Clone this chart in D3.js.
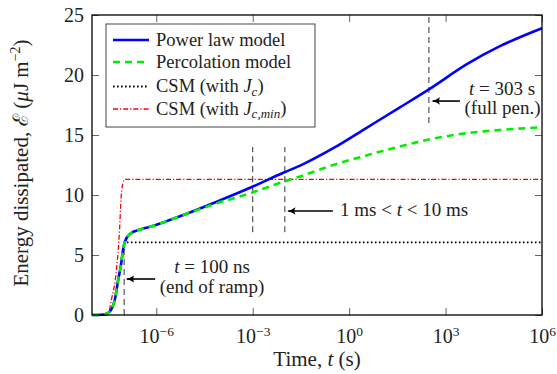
<!DOCTYPE html>
<html><head><meta charset="utf-8">
<script src="https://cdn.jsdelivr.net/npm/d3@7"></script>
<style>
body{margin:0;background:#fff;}
svg text{fill:#222;}
</style></head>
<body>
<svg id="c" width="557" height="374"></svg>
<script>
// ---- data ----
const powerLawT = [1e-8, 2e-8, 3.2e-8, 5.1e-8, 6.5e-8, 8.1e-8, 9.2e-8, 1.05e-7, 1.5e-7, 3.4e-7, 6.4e-7, 1.8e-6, 6.9e-6, 7.6e-5, 8.3e-4, 8.9e-3, 0.03, 0.32, 3.5, 38, 303, 4.6e3, 4.9e4, 1e6];
const powerLawE = [0, 0.02, 0.17, 1.25, 2.9, 4.3, 5.4, 6.1, 6.75, 7.15, 7.35, 7.75, 8.33, 9.44, 10.6, 11.85, 12.45, 13.9, 15.6, 17.3, 18.8, 20.9, 22.4, 23.9];
const percolationT = [1e-8, 2e-8, 3.2e-8, 5.1e-8, 6.5e-8, 8.1e-8, 9.2e-8, 1.05e-7, 1.5e-7, 3.4e-7, 6.4e-7, 1.8e-6, 6.9e-6, 7.6e-5, 8.3e-4, 8.9e-3, 0.03, 0.32, 3.5, 38, 420, 4.6e3, 4.9e4, 1e6];
const percolationE = [0, 0.02, 0.17, 1.25, 2.9, 4.3, 5.4, 6.1, 6.75, 7.15, 7.35, 7.75, 8.33, 9.3, 10.15, 11.1, 11.55, 12.5, 13.3, 14.05, 14.7, 15.15, 15.42, 15.64];
const csmJcT = [1e-8, 2e-8, 3.2e-8, 5.1e-8, 6.5e-8, 8.1e-8, 9.2e-8, 1.05e-7, 1e6];
const csmJcE = [0, 0.02, 0.17, 1.25, 2.9, 4.3, 5.4, 6.05, 6.05];
const csmJcminT = [1e-8, 2.75e-8, 3.2e-8, 4e-8, 5.75e-8, 7.2e-8, 8.1e-8, 9.2e-8, 1.05e-7, 1e6];
const csmJcminE = [0, 0, 0.1, 1.25, 3.75, 7.1, 9.9, 11.0, 11.3, 11.3];

const xTickValues = [1e-6, 1e-3, 1, 1e3, 1e6];
const xTickExponents = ["−6", "−3", "0", "3", "6"];
const yTickValues = [0, 5, 10, 15, 20, 25];

const seriesNames = ["Power law model", "Percolation model", "CSM (with J_c)", "CSM (with J_c,min)"];
const seriesColors = ["#0000ff", "#00ee00", "#000000", "#ff0000"];
const seriesDash = [null, "7,5", "1.6,2.4", "5,2,1.2,2"];
const seriesWidth = [2.6, 2.6, 1.8, 1.3];

// event markers: time, dashed extent (E from, to)
const eventTimes = [1e-7, 1e-3, 1e-2, 303];
const eventFrom = [0, 6.9, 6.9, 16];
const eventTo = [6.1, 14, 14, 25];

// ---- layout ----
const FONT = "'Liberation Serif', 'DejaVu Serif', 'Noto Serif', Tinos, 'Times New Roman', serif";
const svg = d3.select("#c").attr("font-family", FONT);
const L = 92, R = 542, T = 15, B = 315;
const x = d3.scaleLog().domain([1e-8, 1e6]).range([L, R]);
const y = d3.scaleLinear().domain([0, 25]).range([B, T]);

svg.append("defs").append("marker")
  .attr("id", "arr").attr("viewBox", "0 0 10 10").attr("refX", 8).attr("refY", 5)
  .attr("markerWidth", 9).attr("markerHeight", 9).attr("markerUnits", "userSpaceOnUse")
  .attr("orient", "auto")
  .append("path").attr("d", "M0,0.8 Q4,4 10,5 Q4,6 0,9.2 Q2.5,5 0,0.8Z").attr("fill", "#000");

// axes ticks
const tickCol = "#666";
const gx = svg.append("g").attr("transform", `translate(0,${B})`)
  .call(d3.axisBottom(x).tickValues(xTickValues).tickSize(-7).tickPadding(13.5).tickFormat(() => ""));
gx.selectAll(".tick text").each(function(d, i) {
  const t = d3.select(this).attr("font-size", 20);
  t.append("tspan").text("10");
  t.append("tspan").attr("dy", "-0.5em").attr("font-size", 13.5).text(xTickExponents[i]);
});
const gxt = svg.append("g").attr("transform", `translate(0,${T})`)
  .call(d3.axisTop(x).tickValues(xTickValues).tickSize(-7).tickFormat(() => ""));
const gy = svg.append("g").attr("transform", `translate(${L},0)`)
  .call(d3.axisLeft(y).tickValues(yTickValues).tickSize(-7).tickPadding(8));
gy.selectAll(".tick text").attr("font-size", 20).attr("dy", "0.33em");
const gyr = svg.append("g").attr("transform", `translate(${R},0)`)
  .call(d3.axisRight(y).tickValues(yTickValues).tickSize(-7).tickFormat(() => ""));
[gx, gxt, gy, gyr].forEach(g => {
  g.attr("font-family", FONT);
  g.select(".domain").remove();
  g.selectAll(".tick line").attr("stroke", tickCol).attr("stroke-width", 1);
  g.selectAll(".tick text").attr("fill", "#222");
});

// event dashed lines
eventTimes.forEach((t, i) => {
  svg.append("line").attr("x1", x(t)).attr("x2", x(t))
    .attr("y1", y(eventFrom[i])).attr("y2", y(eventTo[i]))
    .attr("stroke", "#333").attr("stroke-width", 1).attr("stroke-dasharray", "6,4");
});

// series
const seriesT = [powerLawT, percolationT, csmJcT, csmJcminT];
const seriesE = [powerLawE, percolationE, csmJcE, csmJcminE];
const line = d3.line().x(d => x(d[0])).y(d => y(d[1])).curve(d3.curveMonotoneX);
const drawOrder = [3, 2, 0, 1];
drawOrder.forEach(k => {
  const data = seriesT[k].map((t, i) => [t, seriesE[k][i]]);
  const p = svg.append("path").datum(data).attr("d", line).attr("fill", "none")
    .attr("stroke", seriesColors[k]).attr("stroke-width", seriesWidth[k]);
  if (seriesDash[k]) p.attr("stroke-dasharray", seriesDash[k]);
});

// frame
svg.append("rect").attr("x", L).attr("y", T).attr("width", R - L).attr("height", B - T)
  .attr("fill", "none").attr("stroke", "#000").attr("stroke-width", 1.3);

// legend
const lg = svg.append("g");
lg.append("rect").attr("x", 106).attr("y", 24).attr("width", 209).attr("height", 103)
  .attr("fill", "#fff").attr("stroke", "#444").attr("stroke-width", 1);
const rowY = [40, 62, 86.5, 109];
seriesNames.forEach((name, k) => {
  const ly = lg.append("line").attr("x1", 113).attr("x2", 149).attr("y1", rowY[k]).attr("y2", rowY[k])
    .attr("stroke", seriesColors[k]).attr("stroke-width", seriesWidth[k]);
  if (seriesDash[k]) ly.attr("stroke-dasharray", seriesDash[k]);
  const t = lg.append("text").attr("x", 156).attr("y", rowY[k] + 5.5).attr("font-size", 18.5);
  const parts = name.split("J_");
  t.append("tspan").text(parts[0]);
  if (parts.length > 1) {
    t.append("tspan").attr("font-style", "italic").text("J");
    const sub = parts[1].replace(")", "");
    t.append("tspan").attr("font-style", "italic").attr("font-size", 13).attr("dy", "0.3em").text(sub);
    t.append("tspan").attr("dy", "-0.22em").text(")");
  }
});

// annotations
function arrow(x1, x2, yy) {
  svg.append("line").attr("x1", x1).attr("x2", x2).attr("y1", yy).attr("y2", yy)
    .attr("stroke", "#000").attr("stroke-width", 1.6).attr("marker-end", "url(#arr)");
}
arrow(x(1e-7) + 31, x(1e-7) + 3, y(3.0));
arrow(x(1e-2) + 48, x(1e-2) + 3.5, y(8.67));
arrow(x(303) + 31, x(303) + 4, y(17.83));

const a1 = svg.append("text").attr("x", 212).attr("y", 272.7).attr("text-anchor", "middle").attr("font-size", 19);
a1.append("tspan").attr("font-style", "italic").text("t");
a1.append("tspan").text(" = 100 ns");
svg.append("text").attr("x", 212).attr("y", 292.5).attr("text-anchor", "middle").attr("font-size", 19).text("(end of ramp)");

const a2 = svg.append("text").attr("x", 340).attr("y", 216).attr("font-size", 19);
a2.append("tspan").text("1 ms < ");
a2.append("tspan").attr("font-style", "italic").text("t");
a2.append("tspan").text(" < 10 ms");

const a3 = svg.append("text").attr("x", 502).attr("y", 95).attr("text-anchor", "middle").attr("font-size", 19);
a3.append("tspan").attr("font-style", "italic").text("t");
a3.append("tspan").text(" = 303 s");
svg.append("text").attr("x", 502.5).attr("y", 114).attr("text-anchor", "middle").attr("font-size", 19).text("(full pen.)");

// axis labels
const xl = svg.append("text").attr("x", (L + R) / 2).attr("y", 366).attr("text-anchor", "middle").attr("font-size", 21);
xl.append("tspan").text("Time, ");
xl.append("tspan").attr("font-style", "italic").text("t");
xl.append("tspan").text(" (s)");

const yl = svg.append("text").attr("transform", `translate(28,${(T + B) / 2 - 2}) rotate(-90)`)
  .attr("text-anchor", "middle").attr("font-size", 21);
yl.append("tspan").text("Energy dissipated, ");
yl.append("tspan").attr("font-style", "italic").text("ℰ");
yl.append("tspan").text(" (");
yl.append("tspan").attr("font-style", "italic").text("μ");
yl.append("tspan").text("J m");
yl.append("tspan").attr("font-size", 14).attr("dy", "-0.55em").text("−2");
yl.append("tspan").attr("dy", "0.38em").text(")");

svg.selectAll("text").attr("font-family", FONT);
</script>
</body></html>
